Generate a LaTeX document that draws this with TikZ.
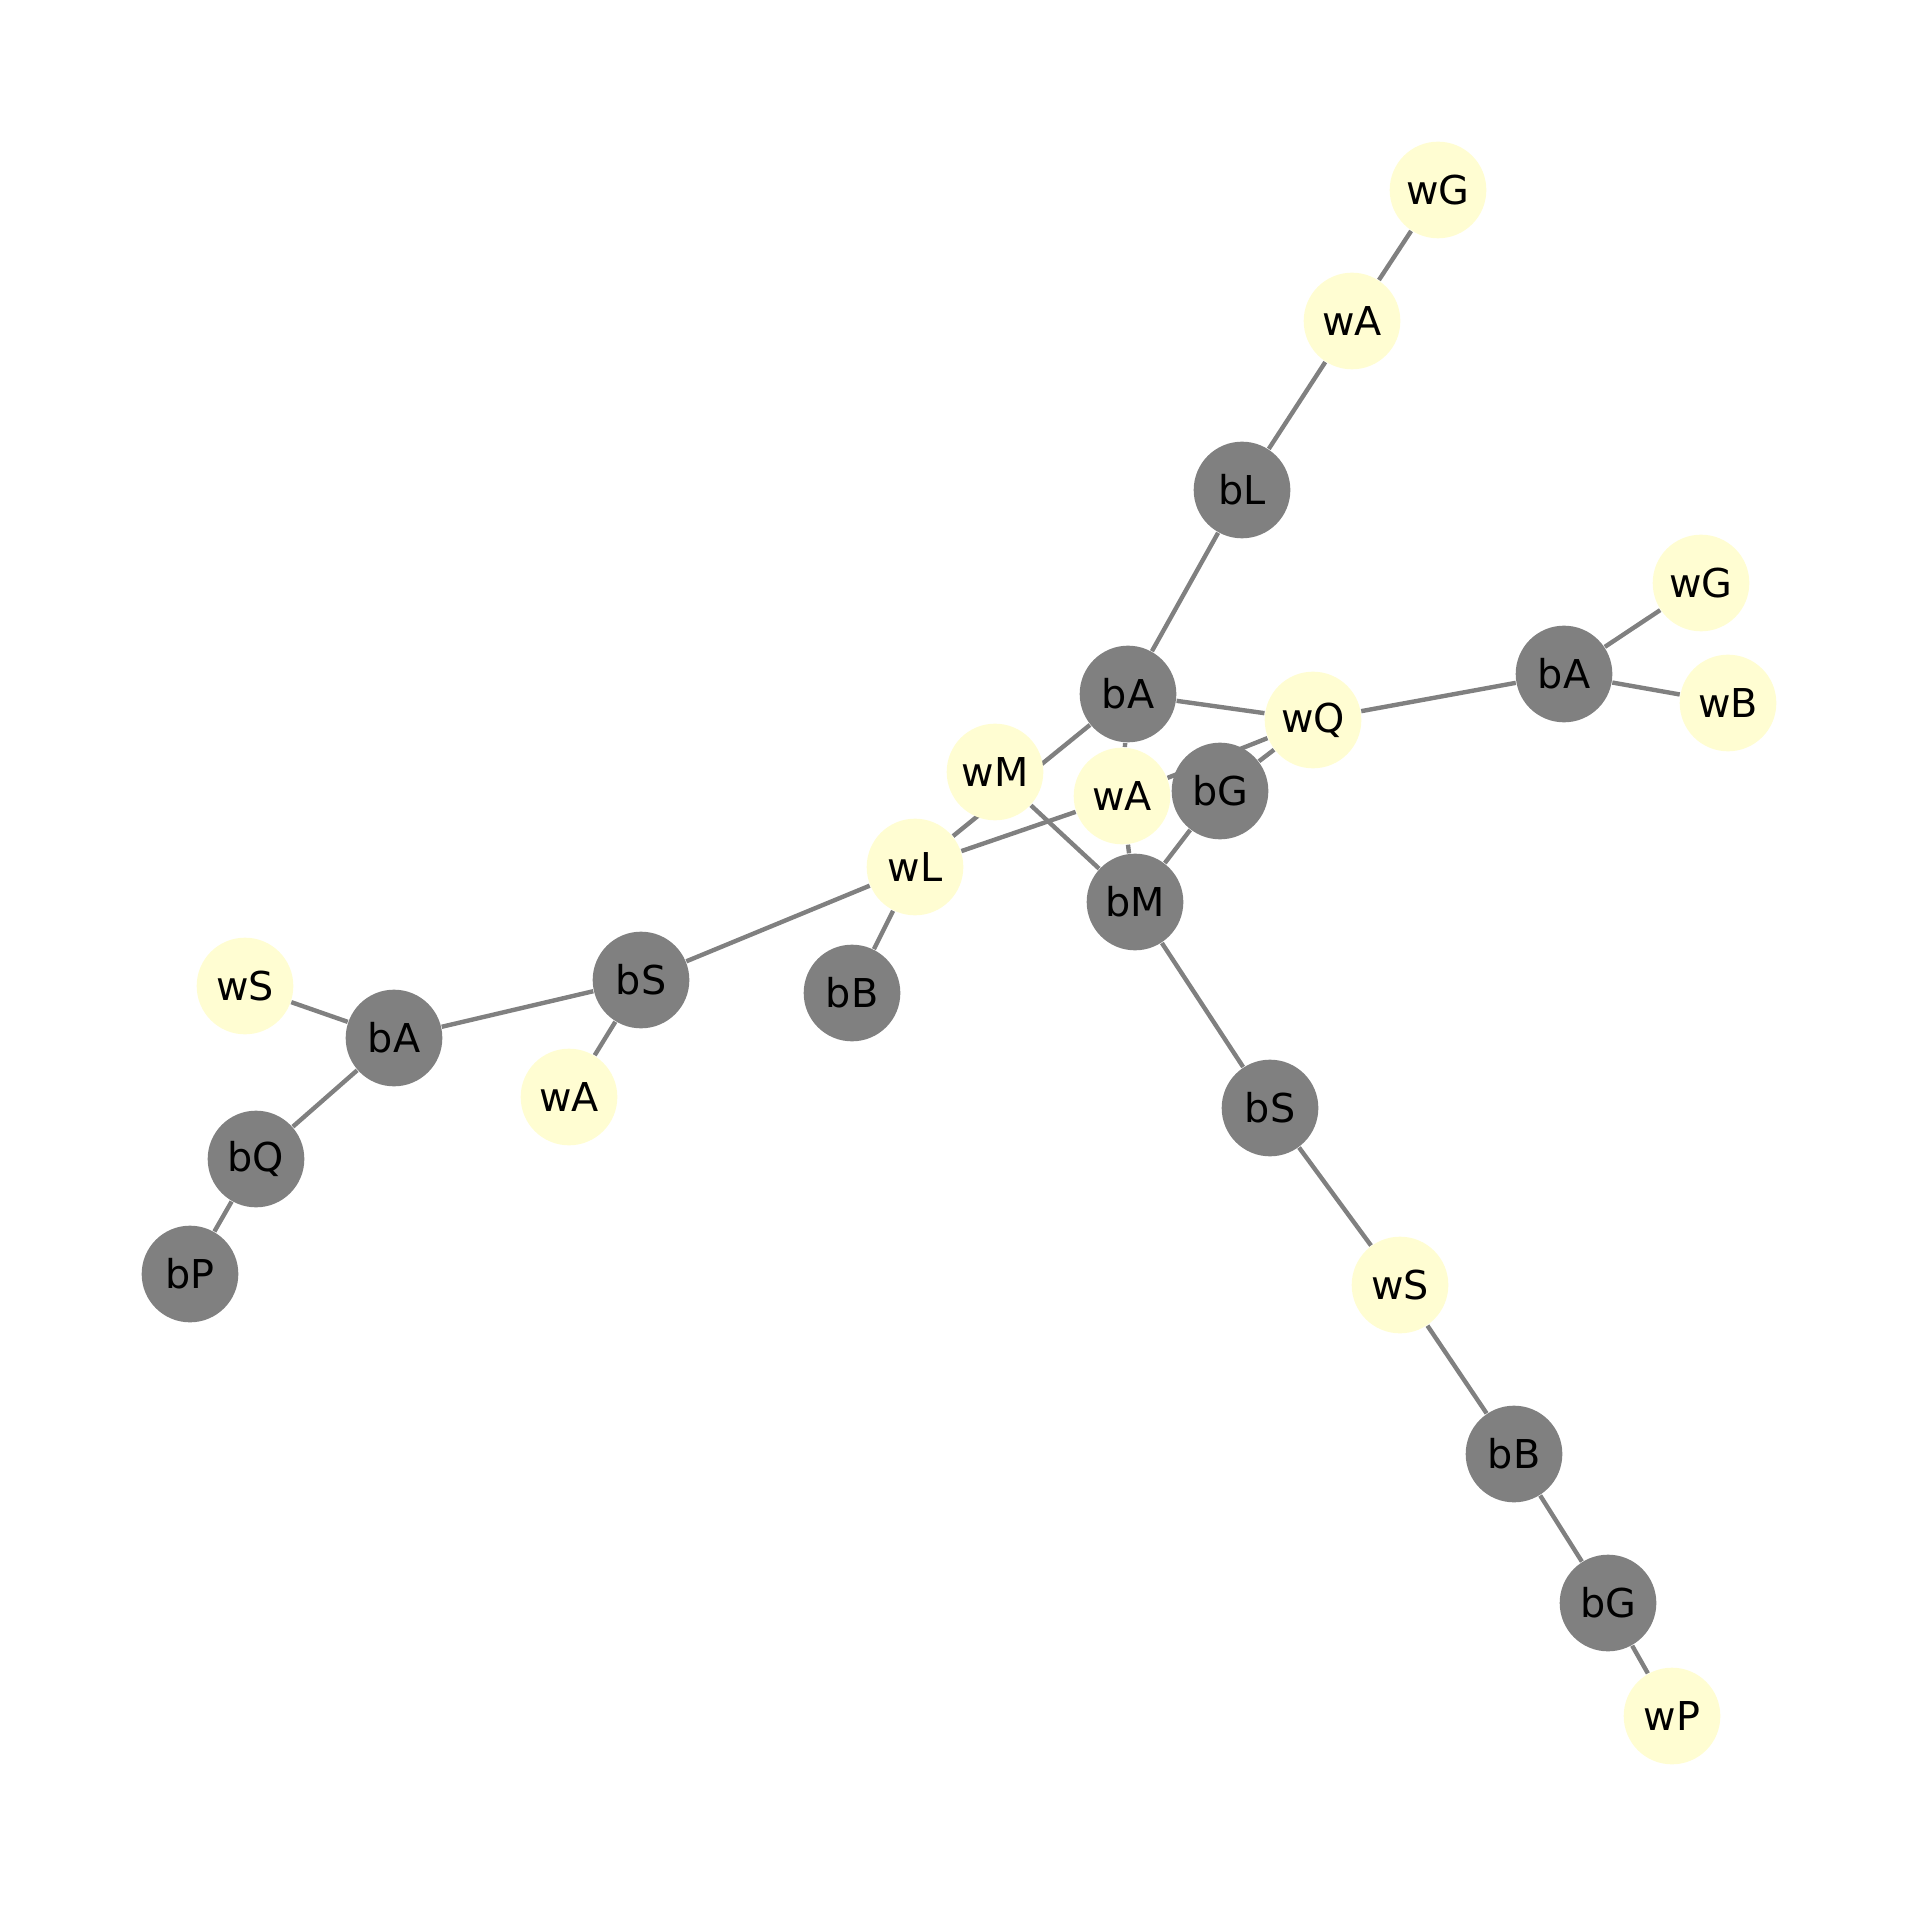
\documentclass[tikz,border=0pt]{standalone}
\usepackage{fontspec}
\setmainfont{DejaVu Sans}
\usetikzlibrary{backgrounds}
\definecolor{bfill}{HTML}{808080}
\definecolor{wfill}{HTML}{FFFDD2}
\tikzset{
    base/.style={circle, minimum size=0.966cm, inner sep=0pt, text=black, font=\fontsize{11.3}{13}\selectfont},
    bnode/.style={base, fill=bfill},
    wnode/.style={base, fill=wfill},
    edge/.style={draw=bfill, line width=1.25pt}
}

\begin{document}
\begin{tikzpicture}[x=0.01cm, y=-0.01cm]
		\useasboundingbox (0,0) rectangle (1919,1907);

		%upper arm
		\node[wnode] (wG1) at (1438,190) {wG};
		\node[wnode] (wA1) at (1352,321) {wA};
		\node[bnode] (bL) at (1242,490) {bL};

		%right arm
		\node[wnode] (wG2) at (1701,583) {wG};
		\node[bnode] (bA2) at (1564,674) {bA};
		\node[wnode] (wB) at (1728,703) {wB};

		%centre
		\node[bnode] (bA1) at (1128,694) {bA};
		\node[wnode] (wQ) at (1313,720) {wQ};
		\node[wnode] (wM) at (995,772) {wM};
		\node[wnode] (wA2) at (1122,796) {wA};
		\node[bnode] (bG1) at (1220,791) {bG};
		\node[wnode] (wL) at (915,867) {wL};
		\node[bnode] (bM) at (1135,902) {bM};
		\node[bnode] (bB1) at (852,993) {bB};

		%left arm
		\node[bnode] (bS1) at (641,980) {bS};
		\node[wnode] (wS1) at (245,986) {wS};
		\node[bnode] (bA3) at (394,1038) {bA};
		\node[wnode] (wA3) at (569,1097) {wA};
		\node[bnode] (bQ) at (256,1159) {bQ};
		\node[bnode] (bP) at (190,1274) {bP};

		%lower arm
		\node[bnode] (bS2) at (1270,1108) {bS};
		\node[wnode] (wS2) at (1400,1285) {wS};
		\node[bnode] (bB2) at (1514,1454) {bB};
		\node[bnode] (bG2) at (1608,1603) {bG};
		\node[wnode] (wP) at (1672,1716) {wP};

		\begin{scope}[on background layer]
		\draw[edge] (wG1) -- (wA1);
		\draw[edge] (wA1) -- (bL);
		\draw[edge] (bL) -- (bA1);
		\draw[edge] (bA1) -- (wQ);
		\draw[edge] (bA1) -- (wL);
		\draw[edge] (bA1) -- (wA2);
		\draw[edge] (wA2) -- (bM);
		\draw[edge] (wA2) -- (wQ);
		\draw[edge] (wA2) -- (wL);
		\draw[edge] (bG1) -- (wQ);
		\draw[edge] (bG1) -- (bM);
		\draw[edge] (wM) -- (bM);
		\draw[edge] (wQ) -- (bA2);
		\draw[edge] (bA2) -- (wG2);
		\draw[edge] (bA2) -- (wB);
		\draw[edge] (wL) -- (bB1);
		\draw[edge] (wL) -- (bS1);
		\draw[edge] (bS1) -- (wA3);
		\draw[edge] (bS1) -- (bA3);
		\draw[edge] (bA3) -- (wS1);
		\draw[edge] (bA3) -- (bQ);
		\draw[edge] (bQ) -- (bP);
		\draw[edge] (bM) -- (bS2);
		\draw[edge] (bS2) -- (wS2);
		\draw[edge] (wS2) -- (bB2);
		\draw[edge] (bB2) -- (bG2);
		\draw[edge] (bG2) -- (wP);
		\end{scope}

	\end{tikzpicture}
\end{document}
